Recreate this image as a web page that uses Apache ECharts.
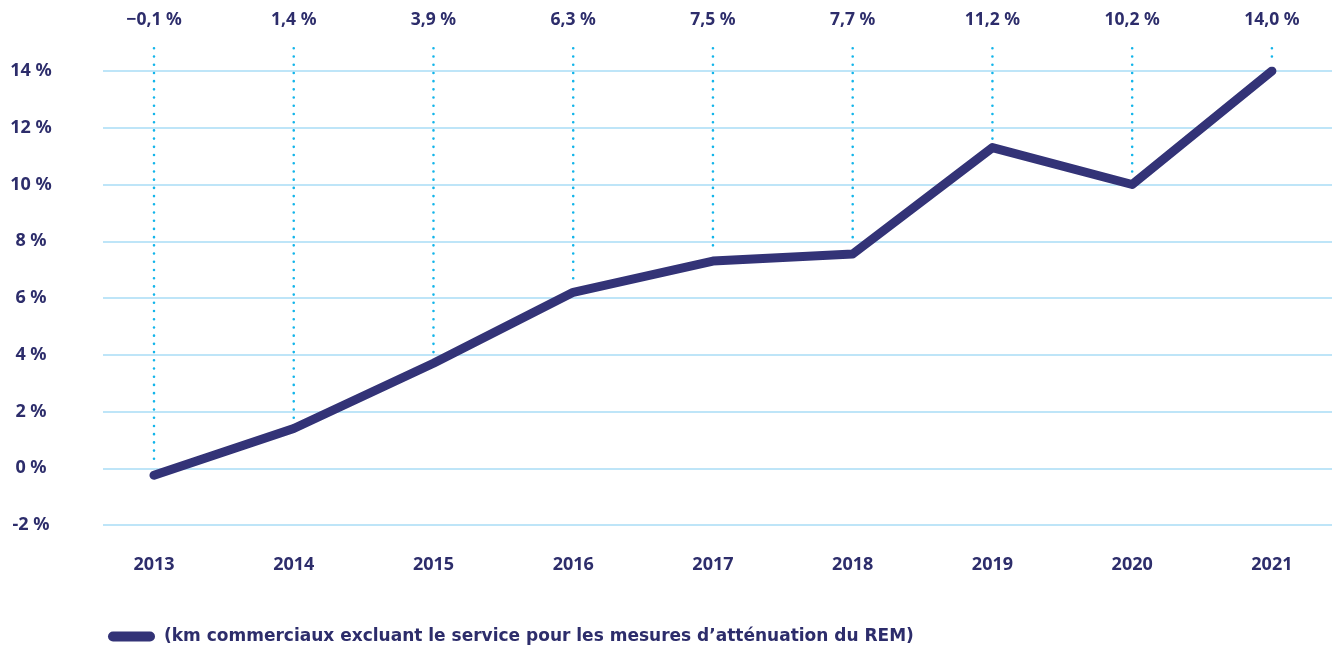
<!DOCTYPE html>
<html><head><meta charset="utf-8">
<script src="https://cdn.jsdelivr.net/npm/echarts@6/dist/echarts.min.js"></script>
<style>html,body{margin:0;padding:0;background:#fff}#c{width:1332px;height:648px}</style>
</head><body><div id="c"></div>
<script>
const years = [2013, 2014, 2015, 2016, 2017, 2018, 2019, 2020, 2021];
const values = [-0.25, 1.4, 3.7, 6.2, 7.3, 7.55, 11.3, 10.0, 14.0];
const topLabels = ['−0,1 %', '1,4 %', '3,9 %', '6,3 %', '7,5 %', '7,7 %', '11,2 %', '10,2 %', '14,0 %'];
const yTicks = [-2, 0, 2, 4, 6, 8, 10, 12, 14];
const seriesName = '(km commerciaux excluant le service pour les mesures d’atténuation du REM)';
const dotTop = 14.8;

const FONT = 'Noto Sans';
const LFONT = 'DejaVu Sans';
const TXT = '#2d2d6b';
const NAVY = '#333377';

const chart = echarts.init(document.getElementById('c'), null, {renderer: 'canvas'});
chart.setOption({
  animation: false,
  textStyle: {fontFamily: FONT},
  grid: {left: 103, right: 0, top: 71, bottom: 123},
  legend: {
    left: 103, top: 623, itemWidth: 47, itemHeight: 10, itemGap: 12,
    icon: 'path://M5,0 H42 A5,5 0 0 1 42,10 H5 A5,5 0 0 1 5,0 Z',
    textStyle: {fontFamily: LFONT, fontWeight: 'bold', fontSize: 17, color: TXT, padding: [0,0,0,4]},
    data: [seriesName]
  },
  xAxis: [{
    type: 'value', min: 2012.635, max: 2021.43,
    axisLine: {show: false}, axisTick: {show: false}, splitLine: {show: false},
    axisLabel: {customValues: years, margin: 31, fontFamily: FONT, fontWeight: 'bold', fontSize: 18, color: TXT,
      formatter: v => String(Math.round(v))}
  }, {
    type: 'value', position: 'top', min: 2012.635, max: 2021.43,
    axisLine: {show: false}, axisTick: {show: false}, splitLine: {show: false},
    axisLabel: {customValues: years, margin: 42, fontFamily: FONT, fontWeight: 'bold', fontSize: 17.5, color: TXT,
      formatter: v => topLabels[years.indexOf(Math.round(v))]}
  }],
  yAxis: {
    type: 'value', min: -2, max: 14, interval: 2,
    axisLine: {show: false}, axisTick: {show: false},
    splitLine: {lineStyle: {color: '#a9dcf6', width: 1.5}},
    axisLabel: {customValues: yTicks, align: 'center', margin: 72, fontFamily: FONT, fontWeight: 'bold', fontSize: 18, color: TXT,
      formatter: v => (v < 0 ? '-' + Math.abs(v) : v) + ' %'}
  },
  series: [{
    type: 'custom', silent: true, clip: false, z: 1,
    data: years.map((y, i) => [y, values[i]]),
    renderItem: (params, api) => {
      const x = api.value(0);
      const p1 = api.coord([x, dotTop]);
      const p2 = api.coord([x, api.value(1)]);
      return {type: 'line', shape: {x1: p1[0], y1: p1[1], x2: p2[0], y2: p2[1] - 9},
        style: {stroke: '#13b5ea', lineWidth: 2.6, lineDash: [0.01, 8.2], lineCap: 'round'}};
    }
  }, {
    name: seriesName, type: 'line', z: 3,
    data: years.map((y, i) => [y, values[i]]),
    showSymbol: false, symbol: 'none',
    itemStyle: {color: NAVY},
    lineStyle: {color: NAVY, width: 9, cap: 'round', join: 'round'}
  }]
});
</script></body></html>
